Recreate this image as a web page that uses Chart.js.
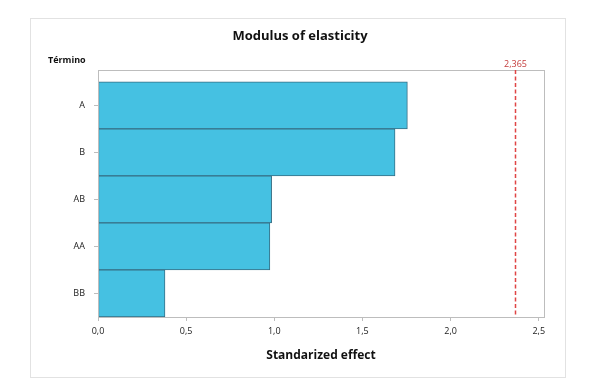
<!DOCTYPE html>
<html>
<head>
<meta charset="utf-8">
<script src="https://cdn.jsdelivr.net/npm/chart.js@4"></script>
<style>
  body { margin: 0; background: #fff; }
  #frame { position: absolute; left: 30px; top: 18px; width: 536px; height: 360px; border: 1px solid #e2e2e2; box-sizing: border-box; }
</style>
</head>
<body>
<div id="frame"><canvas id="chart" width="534" height="358"></canvas></div>
<script>
// data
const terms = ['A', 'B', 'AB', 'AA', 'BB'];
const effects = [1.755, 1.685, 0.985, 0.975, 0.38];
const xTicks = [0, 0.5, 1.0, 1.5, 2.0, 2.5];
const critValue = 2.365;
const critLabel = '2,365';

const fontFam = "'Open Sans', 'Noto Sans', sans-serif";

// frame around the plot, title, "Término" and the red reference line
const extras = {
  id: 'extras',
  afterDatasetsDraw(chart) {
    const c = chart.ctx;
    const a = chart.chartArea;
    const xs = chart.scales.x;
    c.save();
    c.strokeStyle = '#bdbdbd';
    c.lineWidth = 1;
    c.strokeRect(a.left + 0.5, a.top + 0.5, a.right - a.left, a.bottom - a.top);

    const px = Math.round(xs.getPixelForValue(critValue)) + 0.5;
    c.strokeStyle = '#e04545';
    c.lineWidth = 1.5;
    c.setLineDash([4, 2.5]);
    c.beginPath();
    c.moveTo(px, a.top);
    c.lineTo(px, a.bottom);
    c.stroke();
    c.setLineDash([]);

    c.fillStyle = '#c43c3c';
    c.font = '9px ' + fontFam;
    c.textAlign = 'center';
    c.textBaseline = 'bottom';
    c.fillText(critLabel, px, a.top - 1);

    c.fillStyle = '#111';
    c.font = 'bold 13px ' + fontFam;
    c.textBaseline = 'middle';
    c.fillText('Modulus of elasticity', (chart.width / 2) + 2, 17);

    c.font = 'bold 9px ' + fontFam;
    c.textAlign = 'left';
    c.fillText('Término', 17, 41);
    c.restore();
  }
};

new Chart(document.getElementById('chart'), {
  type: 'bar',
  data: {
    datasets: [{
      data: effects.map((v, i) => ({ x: v, y: i + 1 })),
      backgroundColor: '#45c1e2',
      borderColor: '#376e84',
      borderWidth: 1,
      borderSkipped: false,
      barPercentage: 1,
      categoryPercentage: 1
    }]
  },
  options: {
    indexAxis: 'y',
    responsive: false,
    animation: false,
    layout: { padding: { top: 51, right: 21, left: 0, bottom: 0 } },
    plugins: { legend: { display: false }, tooltip: { enabled: false } },
    scales: {
      y: {
        type: 'linear',
        reverse: true,
        offset: false,
        min: 0.25,
        max: 5.5,
        afterFit(s) { s.width = 67; },
        afterBuildTicks(s) { s.ticks = terms.map((t, i) => ({ value: i + 1 })); },
        grid: { offset: false, drawOnChartArea: false, tickLength: 4, color: '#bdbdbd' },
        border: { display: false },
        ticks: {
          padding: 9,
          color: '#222',
          font: { size: 9, family: fontFam },
          callback: (v) => terms[v - 1]
        }
      },
      x: {
        type: 'linear',
        min: 0,
        max: 2.53,
        afterFit(s) { s.height = 60; },
        afterBuildTicks(s) { s.ticks = xTicks.map(v => ({ value: v })); },
        grid: { drawOnChartArea: false, tickLength: 4, color: '#bdbdbd' },
        border: { display: false },
        ticks: {
          padding: 5,
          maxRotation: 0,
          color: '#222',
          font: { size: 9, family: fontFam },
          callback: (v) => v.toFixed(1).replace('.', ',')
        },
        title: {
          display: true,
          text: 'Standarized effect',
          color: '#111',
          font: { size: 12, weight: 'bold', family: fontFam },
          padding: { top: 4, bottom: 14 }
        }
      }
    }
  },
  plugins: [extras]
});
</script>
</body>
</html>
